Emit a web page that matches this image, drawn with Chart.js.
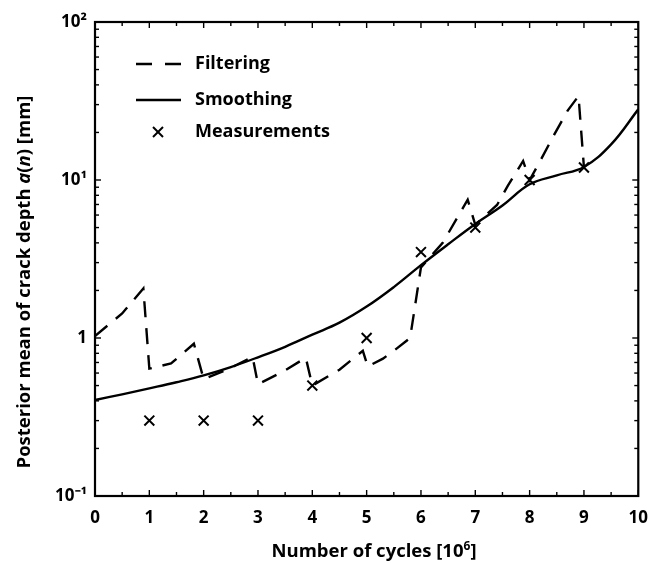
<!DOCTYPE html>
<html><head><meta charset="utf-8">
<script src="https://cdn.jsdelivr.net/npm/chart.js@4"></script>
<style>html,body{margin:0;padding:0;background:#fff}</style>
</head><body>
<canvas id="c" width="660" height="563"></canvas>
<script>
// ---- data ----
const filterX = [0, 0.5, 0.89, 1.0, 1.4, 1.82, 2.0, 2.45, 2.9, 3.0, 3.45, 3.88, 4.0, 4.5, 4.93, 5.02, 5.3, 5.5, 5.8, 6.0, 6.4, 6.86, 7.0, 7.4, 7.6, 7.88, 8.0, 8.2, 8.45, 8.7, 8.9, 9.0];
const filterY = [1.03, 1.43, 2.06, 0.64, 0.69, 0.92, 0.55, 0.635, 0.76, 0.51, 0.61, 0.75, 0.5, 0.63, 0.83, 0.66, 0.74, 0.83, 1.0, 2.8, 4.0, 7.5, 5.2, 6.95, 9.2, 13.2, 10, 13.3, 19.3, 27.5, 34, 12];
const smoothX = [0, 0.5, 1, 1.5, 2, 2.5, 3, 3.5, 4, 4.5, 5, 5.5, 6, 6.5, 7, 7.5, 8, 8.5, 9, 9.5, 10];
const smoothY = [0.405, 0.44, 0.48, 0.525, 0.58, 0.655, 0.755, 0.88, 1.05, 1.25, 1.58, 2.1, 2.89, 3.92, 5.27, 6.9, 9.4, 10.7, 12.1, 16.8, 28];
const measX = [1, 2, 3, 4, 5, 6, 7, 8, 9];
const measY = [0.3, 0.3, 0.3, 0.5, 1.0, 3.5, 5.0, 10, 12];
const seriesNames = ['Filtering', 'Smoothing', 'Measurements'];
const yTickValues = [0.1, 1, 10, 100];
const yTickLabels = ['10\u207B\u00B9', '1', '10\u00B9', '10\u00B2'];
const xTickLabels = ['0','1','2','3','4','5','6','7','8','9','10'];

const FONT = '"Open Sans", "Liberation Sans", sans-serif';
const toPts = (xs, ys) => xs.map((x, i) => ({x: x, y: ys[i]}));

function drawRuns(ctx, runs, cx, cy, rotate) {
  ctx.save();
  ctx.translate(cx, cy);
  if (rotate) ctx.rotate(-Math.PI / 2);
  ctx.textBaseline = 'alphabetic';
  ctx.fillStyle = '#000';
  let total = 0;
  runs.forEach(r => { ctx.font = r.font; total += ctx.measureText(r.t).width; });
  let x = -total / 2;
  runs.forEach(r => { ctx.font = r.font; ctx.fillText(r.t, x, r.dy || 0); x += ctx.measureText(r.t).width; });
  ctx.restore();
}

const framePlugin = {
  id: 'frame',
  afterDatasetsDraw(chart) {
    const {ctx, chartArea: a, scales: {x, y}} = chart;
    ctx.save();
    ctx.strokeStyle = '#000';
    ctx.lineWidth = 1.4;
    const seg = (x1, y1, x2, y2) => { ctx.beginPath(); ctx.moveTo(x1, y1); ctx.lineTo(x2, y2); ctx.stroke(); };
    for (let i = 0; i <= 20; i++) {
      const v = i / 2, px = x.getPixelForValue(v), L = (i % 2 === 0) ? 6 : 4;
      seg(px, a.bottom, px, a.bottom - L);
      seg(px, a.top, px, a.top + L);
    }
    for (let d = -1; d <= 1; d++) for (let m = 1; m <= 9; m++) {
      const v = m * Math.pow(10, d), py = y.getPixelForValue(v), L = (m === 1) ? 6 : 4;
      seg(a.left, py, a.left + L, py);
      seg(a.right, py, a.right - L, py);
    }
    ctx.lineWidth = 2.2;
    ctx.strokeRect(a.left, a.top, a.right - a.left, a.bottom - a.top);

    // legend
    const lx1 = 136, lx2 = 181, tx = 195;
    const rows = [64, 100, 132];
    ctx.lineWidth = 2.4;
    ctx.setLineDash([16, 13]);
    seg(lx1, rows[0], lx2, rows[0]);
    ctx.setLineDash([]);
    seg(lx1, rows[1], lx2, rows[1]);
    ctx.lineWidth = 2;
    const cxm = 158, r = 5;
    seg(cxm - r, rows[2] - r, cxm + r, rows[2] + r);
    seg(cxm - r, rows[2] + r, cxm + r, rows[2] - r);
    ctx.fillStyle = '#000';
    ctx.font = 'bold 18px ' + FONT;
    ctx.textBaseline = 'middle';
    seriesNames.forEach((n, i) => ctx.fillText(n, tx, rows[i]));

    // axis titles
    const N = 'bold 18.5px ' + FONT, I = 'italic bold 18.5px ' + FONT, S = 'bold 12px ' + FONT;
    drawRuns(ctx, [
      {t: 'Posterior mean of crack depth ', font: N},
      {t: 'a', font: I}, {t: '(', font: N}, {t: 'n', font: I}, {t: ') [mm]', font: N}
    ], 30, 282, true);
    drawRuns(ctx, [
      {t: 'Number of cycles [10', font: N}, {t: '6', font: S, dy: -7}, {t: ']', font: N}
    ], 374, 557, false);
    ctx.restore();
  }
};

new Chart(document.getElementById('c'), {
  type: 'line',
  data: {
    datasets: [
      {label: seriesNames[0], data: toPts(filterX, filterY), borderColor: '#000', borderWidth: 2.4,
       borderDash: [16, 11], pointRadius: 0, tension: 0, fill: false},
      {label: seriesNames[1], data: toPts(smoothX, smoothY), borderColor: '#000', borderWidth: 2.4,
       pointRadius: 0, tension: 0.4, fill: false},
      {label: seriesNames[2], data: toPts(measX, measY), showLine: false, borderColor: '#000',
       borderWidth: 2, pointStyle: 'crossRot', pointRadius: 7, pointHoverRadius: 7}
    ]
  },
  options: {
    responsive: false, animation: false, devicePixelRatio: 1,
    layout: {padding: {top: 22, right: 11, left: 0, bottom: 0}},
    plugins: {legend: {display: false}, tooltip: {enabled: false}},
    scales: {
      x: {
        type: 'linear', min: 0, max: 10,
        grid: {display: false, drawTicks: false}, border: {display: false},
        ticks: {stepSize: 1, color: '#000', padding: 12, font: {family: FONT, size: 17, weight: 'bold'},
                callback: (v) => xTickLabels[Math.round(v)], maxRotation: 0},
        afterFit: (s) => { s.height = 67; }
      },
      y: {
        type: 'logarithmic', min: 0.1, max: 100,
        grid: {display: false, drawTicks: false}, border: {display: false},
        afterBuildTicks: (s) => { s.ticks = yTickValues.map(v => ({value: v, major: true})); },
        ticks: {color: '#000', padding: 8, font: {family: FONT, size: 17, weight: 'bold'},
                callback: (v) => { const i = yTickValues.findIndex(t => Math.abs(Math.log10(t) - Math.log10(v)) < 1e-6); return i >= 0 ? yTickLabels[i] : ''; }},
        afterFit: (s) => { s.width = 95; }
      }
    }
  },
  plugins: [framePlugin]
});
</script>
</body></html>
